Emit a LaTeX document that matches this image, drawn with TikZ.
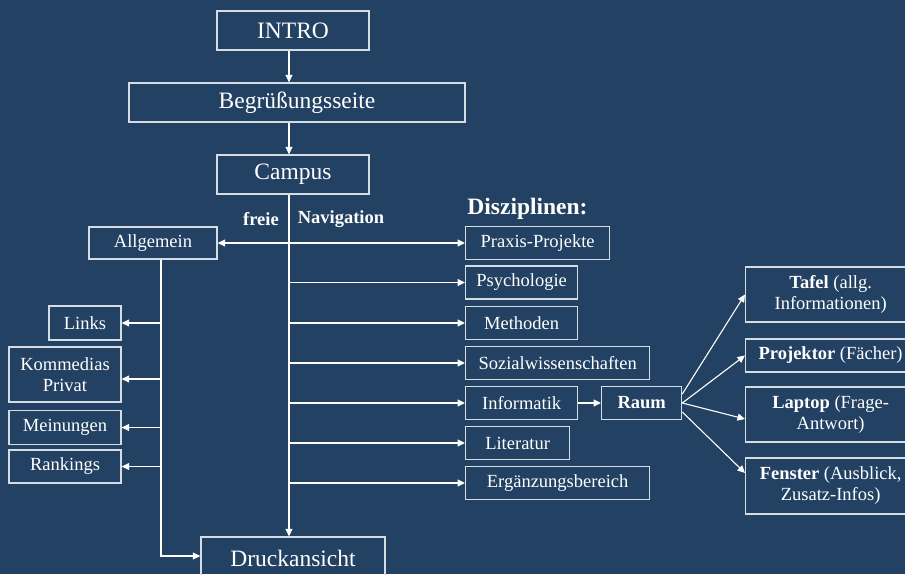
\documentclass[tikz,border=0pt]{standalone}
\usepackage{fontspec}
\setmainfont{Liberation Serif}
\usetikzlibrary{arrows.meta}
\definecolor{slate}{RGB}{35,65,98}
\definecolor{rim}{RGB}{214,220,228}

\begin{document}
\begin{tikzpicture}[
    x=1pt, y=-1pt,
    >={Triangle[length=7.5pt, width=7pt]},
    every node/.style={text=white, align=center, inner sep=0pt, font=\fontsize{18.5}{21}\selectfont},
    box/.style={draw=rim, line width=1.3pt, minimum height=33pt},
    bigbox/.style={box, minimum height=39pt, font=\fontsize{23.5}{26}\selectfont},
    disc/.style={box, anchor=west},
    wide/.style={box, anchor=west, minimum width=170pt},
    lbl/.style={font=\fontsize{18.5}{21}\selectfont\bfseries},
    conn/.style={draw=white, line width=1.1pt}
  ]

  \useasboundingbox (0,0) rectangle (905,574);
  \fill[slate] (0,0) rectangle (905,574);

  \coordinate (spine) at (289,0);
  \coordinate (trunk) at (161,0);

  \node[bigbox, minimum width=152pt] (intro) at (293,30.5) {INTRO};
  \node[bigbox, minimum width=336pt] (welcome) at (297,102.5) {Begrüßungsseite};
  \node[bigbox, minimum width=152pt] (campus) at (293,174.5) {Campus};
  \node[bigbox, minimum width=184pt, minimum height=42pt] (print) at (293,558) {Druckansicht};

  \node[lbl] (free) at (261,219) {freie};
  \node[lbl] (navi) at (341,219) {Navigation};
  \node[lbl, font=\fontsize{23.5}{26}\selectfont\bfseries] (title) at (527.5,209) {Disziplinen:};

  \node[box, minimum width=128pt, minimum height=32pt] (general) at (153,243) {Allgemein};
  \node[box, minimum width=72pt, minimum height=34pt] (links) at (85,323) {Links};
  \node[box, minimum width=112pt, minimum height=55pt] (private) at (65,374.5) {Kommedias\\Privat};
  \node[box, minimum width=112pt, minimum height=34pt] (opinions) at (65,427.5) {Meinungen};
  \node[box, minimum width=112pt] (rankings) at (65,466.5) {Rankings};

  \node[disc, minimum width=144pt] (praxis) at (465,243) {Praxis-Projekte};
  \node[disc, minimum width=112pt] (psycho) at (465,282.5) {Psychologie};
  \node[disc, minimum width=112pt] (methods) at (465,323) {Methoden};
  \node[disc, minimum width=184pt] (social) at (465,363) {Sozialwissenschaften};
  \node[disc, minimum width=112pt] (informatics) at (465,403) {Informatik};
  \node[disc, minimum width=104pt] (literature) at (465,443) {Literatur};
  \node[disc, minimum width=184pt] (extra) at (465,483) {Ergänzungsbereich};

  \node[disc, minimum width=80pt, font=\fontsize{18.5}{21}\selectfont\bfseries] (raum) at (601,403) {Raum};

  \node[wide, minimum height=55pt] (tafel) at (745,294.5) {\textbf{Tafel} (allg.\\Informationen)};
  \node[wide] (beamer) at (745,355.5) {\textbf{Projektor} (Fächer)};
  \node[wide, minimum height=55pt] (laptop) at (745,414.5) {\textbf{Laptop} (Frage-\\Antwort)};
  \node[wide, minimum height=56pt] (window) at (745,486) {\textbf{Fenster} (Ausblick,\\Zusatz-Infos)};

  \draw[conn,->] (intro.south -| spine) -- (welcome.north -| spine);
  \draw[conn,->] (welcome.south -| spine) -- (campus.north -| spine);
  \draw[conn,->] (campus.south -| spine) -- (print.north -| spine);

  \draw[conn,<->] (general) -- (praxis);
  \draw[conn,->] (general.south -| trunk) |- ([yshift=2pt]print.west);
  \foreach \n in {links,opinions,rankings}
    \draw[conn,->] (\n.east -| trunk) -- (\n.east);
  \draw[conn,->] (trunk |- 0,379) -- (private.east |- 0,379);

  \foreach \n in {psycho,methods,social,informatics,literature,extra}
    \draw[conn,->] (\n.west -| spine) -- (\n.west);

  \draw[conn,->] (informatics) -- (raum);
  \draw[conn,->] ([yshift=9pt]raum.east) -- (tafel.west);
  \draw[conn,->] (raum.east) -- (beamer.west);
  \draw[conn,->] (raum.east) -- ([yshift=-4.5pt]laptop.west);
  \draw[conn,->] ([yshift=-9pt]raum.east) -- ([yshift=13pt]window.west);

\end{tikzpicture}
\end{document}
